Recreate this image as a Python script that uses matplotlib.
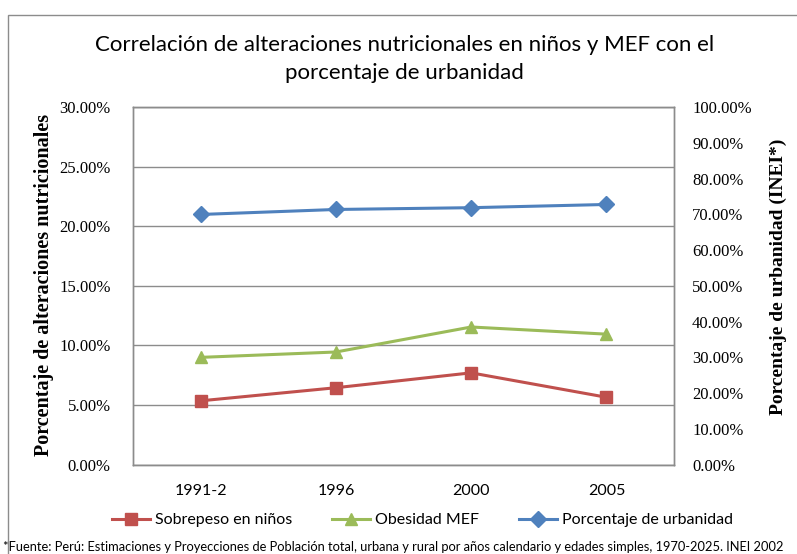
import matplotlib.pyplot as plt
from matplotlib.patches import Rectangle
from matplotlib.ticker import FuncFormatter
import numpy as np

years = ["1991-2", "1996", "2000", "2005"]
sobrepeso = [5.35, 6.45, 7.7, 5.65]
obesidad = [9.0, 9.45, 11.55, 10.95]
urbanidad = [70.0, 71.4, 71.9, 72.8]

red = "#C0504D"
green = "#9BBB59"
blue = "#4F81BD"
grid = "#8C8C8C"

sans = ["Lato", "DejaVu Sans"]
serif = ["Liberation Serif", "DejaVu Serif"]

fig = plt.figure(figsize=[7.97, 5.54], dpi=100)
ax = fig.add_axes([0.1669, 0.1615, 0.6788, 0.6448])
ax2 = ax.twinx()

x = np.arange(len(years)) + 0.5

l1, = ax.plot(x, sobrepeso, color=red, lw=2.2, marker="s", ms=9, label="Sobrepeso en niños")
l2, = ax.plot(x, obesidad, color=green, lw=2.2, marker="^", ms=9, label="Obesidad MEF")
l3, = ax2.plot(x, urbanidad, color=blue, lw=2.2, marker="D", ms=8, label="Porcentaje de urbanidad")

ax.set_xlim(0, 4)
ax.set_ylim(0, 30)
ax2.set_ylim(0, 100)
ax.set_yticks(np.arange(0, 31, 5))
ax2.set_yticks(np.arange(0, 101, 10))
ax.yaxis.set_major_formatter(FuncFormatter(lambda v, p: f"{v:.2f}%"))
ax2.yaxis.set_major_formatter(FuncFormatter(lambda v, p: f"{v:.2f}%"))
ax.set_xticks(x)
ax.set_xticklabels(years, family=sans, fontsize=11.5)

ax.grid(axis="y", color=grid, lw=1)
ax.set_axisbelow(True)
for a in (ax, ax2):
    for s in a.spines.values():
        s.set_color(grid)
        s.set_linewidth(1)
ax.tick_params(axis="both", length=0, pad=16)
ax.tick_params(axis="x", pad=14)
ax2.tick_params(axis="y", length=0, pad=13)
for t in ax.get_yticklabels() + ax2.get_yticklabels():
    t.set_family(serif)
    t.set_fontsize(12)

fig.text(0.055, 0.4855, "Porcentaje de alteraciones nutricionales", rotation=90,
         ha="center", va="center", family=serif, fontweight="bold", fontsize=14.5)
fig.text(0.977, 0.5, "Porcentaje de urbanidad (INEI*)", rotation=90,
         ha="center", va="center", family=serif, fontweight="bold", fontsize=14)

fig.text(0.508, 0.918, "Correlación de alteraciones nutricionales en niños y MEF con el",
         ha="center", va="center", family=sans, fontsize=16)
fig.text(0.508, 0.868, "porcentaje de urbanidad", ha="center", va="center", family=sans, fontsize=16)

fig.legend(handles=[l1, l2, l3], loc="center", bbox_to_anchor=(0.53, 0.061), ncol=3,
           frameon=False, prop={"family": sans, "size": 11.5}, handlelength=2.4,
           columnspacing=2.5, handletextpad=0.3)

fig.text(0.004, 0.012, "*Fuente: Perú: Estimaciones y Proyecciones de Población total, urbana y rural por años calendario y edades simples, 1970-2025. INEI 2002",
         ha="left", va="center", family=sans, fontsize=9.3)

fig.patches.append(Rectangle((0.01, -0.1), 1.2, 0.073 + 1.0, transform=fig.transFigure,
                             fill=False, edgecolor="#8C8C8C", lw=1))

fig.savefig("out.png", dpi=100)
